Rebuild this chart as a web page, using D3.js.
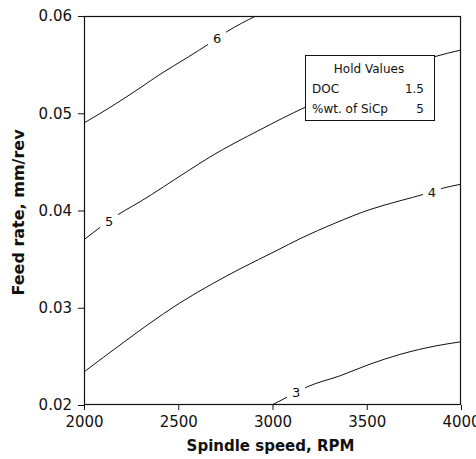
<!DOCTYPE html>
<html><head><meta charset="utf-8">
<script src="https://cdn.jsdelivr.net/npm/d3@7"></script>
<style>body{margin:0;background:#fff;} svg{display:block;font-family:"DejaVu Sans",sans-serif;}</style>
</head><body><svg id="c" width="476" height="459"></svg>
<script>
const xTicks = [2000, 2500, 3000, 3500, 4000];
const yTicks = [0.02, 0.03, 0.04, 0.05, 0.06];
const contour6 = [[2000,0.0490],[2138,0.0506],[2297,0.0526],[2403,0.0540],[2546,0.0557],[2668,0.0572],[2759,0.0584],[2912,0.0600]];
const contour5 = [[2000,0.0370],[2191,0.0397],[2297,0.0409],[2546,0.0440],[2668,0.0455],[2934,0.0483],[3172,0.0506],[3517,0.0532],[3857,0.0558],[4000,0.0565]];
const contour4 = [[2000,0.0234],[2207,0.0264],[2334,0.0282],[2509,0.0305],[2684,0.0325],[2828,0.0340],[3024,0.0359],[3146,0.0371],[3332,0.0387],[3517,0.0401],[3676,0.0410],[3809,0.0417],[3905,0.0423],[4000,0.0427]];
const contour3 = [[2997,0.0200],[3077,0.0208],[3188,0.0219],[3358,0.0230],[3517,0.0242],[3676,0.0252],[3873,0.0261],[4000,0.0265]];
const contourLevels = ["6", "5", "4", "3"];
const labelX = [2706, 2133, 3846, 3125];
const labelY = [0.0577, 0.0389, 0.0419, 0.0213];
const holdNames = ["DOC", "%wt. of SiCp"];
const holdValues = ["1.5", "5"];

const svg = d3.select("#c");
const m = {l:84, r:15, t:16, b:54};
const W = 476, H = 459;
const x = d3.scaleLinear().domain([2000,4000]).range([m.l, W-m.r]);
const y = d3.scaleLinear().domain([0.02,0.06]).range([H-m.b, m.t]);

svg.append("defs").append("clipPath").attr("id","clip")
  .append("rect").attr("x",m.l).attr("y",m.t).attr("width",W-m.r-m.l).attr("height",H-m.b-m.t);

const line = d3.line().x(d=>x(d[0])).y(d=>y(d[1])).curve(d3.curveMonotoneX);
const contours = [contour6, contour5, contour4, contour3];
const g = svg.append("g").attr("clip-path","url(#clip)");
contours.forEach(c => {
  g.append("path").datum(c).attr("d", line).attr("fill","none").attr("stroke","#111").attr("stroke-width",1);
});
// contour labels with gaps
contourLevels.forEach((lv,i) => {
  const cx = x(labelX[i]), cy = y(labelY[i]);
  g.append("rect").attr("x",cx-9).attr("y",cy-7).attr("width",18).attr("height",14).attr("fill","#fff");
  g.append("text").attr("x",cx).attr("y",cy).attr("dy","0.36em").attr("text-anchor","middle")
    .attr("font-size",13).attr("fill","#111").text(lv);
});

// axes
const xa = svg.append("g").attr("transform",`translate(0,${H-m.b})`)
  .call(d3.axisBottom(x).tickValues(xTicks).tickFormat(d3.format("d")).tickSize(5).tickPadding(6));
const ya = svg.append("g").attr("transform",`translate(${m.l},0)`)
  .call(d3.axisLeft(y).tickValues(yTicks).tickFormat(d3.format(".2f")).tickSize(6).tickPadding(6));
[xa, ya].forEach(a => {
  a.selectAll("text").attr("font-size",15).attr("font-family","DejaVu Sans").attr("fill","#111");
  a.selectAll("line").attr("stroke","#111");
  a.select(".domain").remove();
});
svg.append("rect").attr("x",m.l+0.5).attr("y",m.t+0.5).attr("width",W-m.r-m.l-1).attr("height",H-m.b-m.t-1)
  .attr("fill","none").attr("stroke","#111").attr("stroke-width",1.2);

// axis titles
svg.append("text").attr("x",(m.l+W-m.r)/2-2).attr("y",451).attr("text-anchor","middle")
  .attr("font-size",15).attr("font-weight","bold").attr("fill","#111").text("Spindle speed, RPM");
svg.append("text").attr("transform",`translate(24,${(m.t+H-m.b)/2+2}) rotate(-90)`).attr("text-anchor","middle")
  .attr("font-size",16).attr("font-weight","bold").attr("fill","#111").text("Feed rate, mm/rev");

// hold values box
const lg = svg.append("g");
lg.append("rect").attr("x",305.5).attr("y",55.5).attr("width",129).attr("height",65)
  .attr("fill","#fff").attr("stroke","#111").attr("stroke-width",1);
lg.append("text").attr("x",369).attr("y",73).attr("text-anchor","middle").attr("font-size",12).attr("fill","#111").text("Hold Values");
holdNames.forEach((n,i) => {
  lg.append("text").attr("x",312).attr("y",93+20*i).attr("font-size",12).attr("fill","#111").text(n);
  lg.append("text").attr("x",424).attr("y",93+20*i).attr("text-anchor","end").attr("font-size",12).attr("fill","#111").text(holdValues[i]);
});
</script></body></html>
